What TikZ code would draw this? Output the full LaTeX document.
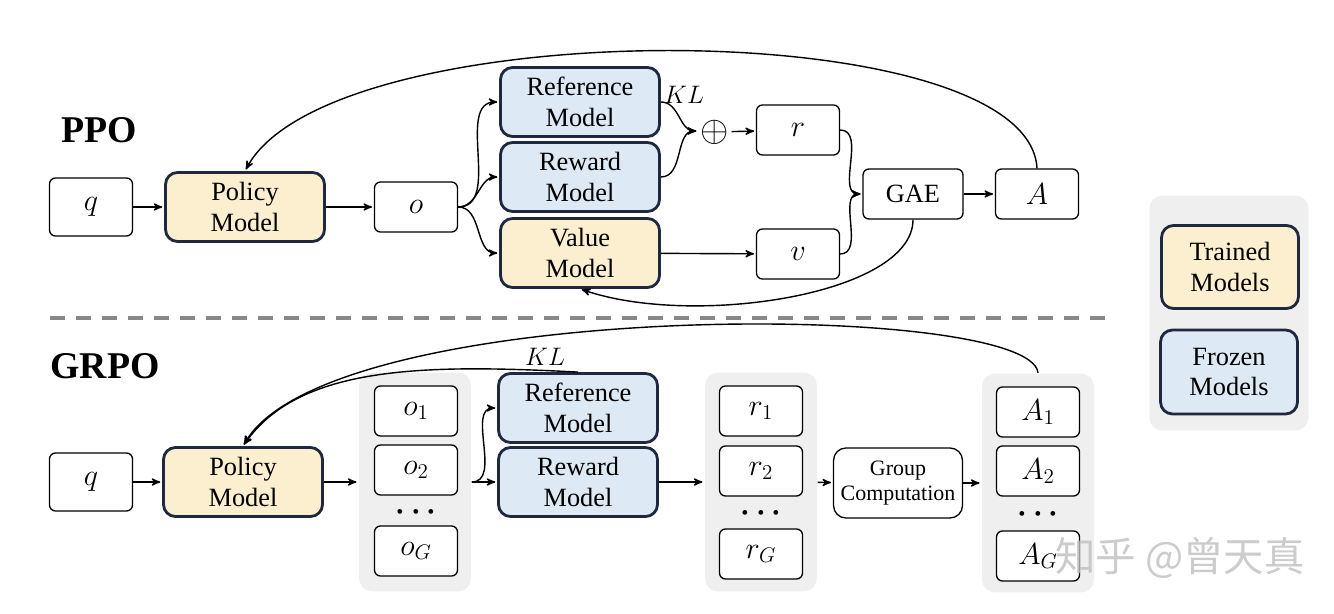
\documentclass[tikz,border=0pt]{standalone}
\usepackage{fontspec}
\setmainfont{Liberation Serif}
\newfontfamily\cjk{Noto Sans CJK SC}
\usetikzlibrary{arrows}

\definecolor{trained}{RGB}{252,239,207}
\definecolor{frozen}{RGB}{221,233,245}
\definecolor{navy}{RGB}{30,40,62}
\definecolor{groupgray}{RGB}{239,239,239}

\begin{document}
\begin{tikzpicture}[x=0.02cm, y=0.02cm, ->, >=stealth', shorten >=1pt, thick,
    model/.style={draw=navy, line width=1.6pt, rounded corners=0.24cm, minimum width=3.18cm,
        minimum height=1.38cm, inner sep=0pt, align=center, font=\fontsize{15}{17.6}\selectfont},
    var/.style={draw, line width=0.75pt, fill=white, rounded corners=0.12cm, minimum width=1.66cm,
        minimum height=1cm, inner sep=0pt, font=\fontsize{17.5}{19}\selectfont},
    group/.style={fill=groupgray, rounded corners=0.26cm, minimum width=2.24cm, minimum height=4.38cm},
    title/.style={font=\fontsize{21.5}{24}\selectfont\bfseries},
    kl/.style={font=\fontsize{15}{17}\selectfont},
    dots/.style={font=\fontsize{19}{20}\selectfont\boldmath, inner sep=0pt}]

    \useasboundingbox (0,0) rectangle (1334,-614);

    % PPO
    \node[title] (ppo) at (99,-130) {PPO};
    \node[var, minimum height=1.16cm] (q)  at (91,-207)  {$q$};
    \node[model, fill=trained] (P)         at (245,-207) {Policy\\Model};
    \node[var] (o)                         at (416,-207) {$o$};
    \node[model, fill=frozen] (ref)        at (580,-102) {Reference\\Model};
    \node[model, fill=frozen] (rew)        at (580,-177) {Reward\\Model};
    \node[model, fill=trained] (val)       at (580,-253) {Value\\Model};
    \coordinate (sum) at (698,-131);
    \node[kl] (klp) at (684,-95) {$KL$};
    \node[font=\fontsize{21}{22}\selectfont, inner sep=1pt] (plus) at (715,-132) {$\oplus$};
    \node[var] (r)                         at (798,-130) {$r$};
    \node[var] (v)                         at (798,-254) {$v$};
    \node[var, minimum width=2cm, font=\fontsize{15}{17}\selectfont] (gae) at (913,-194) {GAE};
    \node[var] (A)                         at (1037,-194) {$A$};

    \path
    (q) edge (P)
    (P) edge (o)
    (o.east) edge[out=0, in=180] (ref.west)
    (o.east) edge[out=0, in=180] (rew.west)
    (o.east) edge[out=0, in=180] (val.west)
    (ref.east) edge[out=0, in=180] (sum)
    (rew.east) edge[out=0, in=180] (sum)
    (plus) edge (r)
    (val) edge (v)
    (r.east) edge[out=0, in=180] (gae.west)
    (v.east) edge[out=0, in=180] (gae.west)
    (gae) edge (A)
    (A.north) edge[out=93, in=62, out distance=3.14cm, in distance=3.62cm] (P.north)
    (gae.south) edge[out=-90, in=-19, out distance=1.5cm, in distance=2.4cm] (val.south);

    % separator
    \draw[-, line width=2.3pt, color={rgb,255:red,136;green,136;blue,136}, dash pattern=on 0.3cm off 0.22cm]
        (50,-318) -- (1113,-318);

    % legend
    \node[group, minimum width=3.18cm, minimum height=4.7cm] (leg) at (1229,-313) {};
    \node[model, fill=trained, minimum width=2.74cm, minimum height=1.66cm] (tr) at (1230,-267) {Trained\\Models};
    \node[model, fill=frozen, minimum width=2.74cm, minimum height=1.68cm] (fr) at (1229,-372) {Frozen\\Models};

    % GRPO
    \node[title] (grpo) at (105,-366) {GRPO};
    \node[var, minimum height=1.16cm] (q2) at (91,-482)  {$q$};
    \node[model, fill=trained] (P2)        at (243,-482) {Policy\\Model};
    \node[group] (og) at (415,-482) {};
    \node[var] (o1) at (416,-411) {$o_1$};
    \node[var] (o2) at (416,-470) {$o_2$};
    \node[dots] (od) at (416,-512) {$\cdots$};
    \node[var] (oG) at (416,-551) {$o_G$};
    \node[model, fill=frozen] (ref2)       at (578,-408) {Reference\\Model};
    \node[model, fill=frozen] (rew2)       at (578,-482) {Reward\\Model};
    \node[kl] (klg) at (545,-357) {$KL$};
    \node[group] (rg) at (761,-482) {};
    \node[var] (r1) at (761,-411) {$r_1$};
    \node[var] (r2) at (761,-471) {$r_2$};
    \node[dots] (rd) at (761,-513) {$\cdots$};
    \node[var] (rG) at (761,-554) {$r_G$};
    \node[var, minimum width=2.58cm, minimum height=1.4cm, rounded corners=0.25cm, align=center,
        font=\fontsize{12.5}{14.5}\selectfont] (gc) at (898,-483) {Group\\Computation};
    \node[group] (Ag) at (1038,-483) {};
    \node[var] (A1) at (1038,-412) {$A_1$};
    \node[var] (A2) at (1038,-471) {$A_2$};
    \node[dots] (Ad) at (1038,-514) {$\cdots$};
    \node[var] (AG) at (1038,-556) {$A_G$};

    \path
    (q2) edge (P2)
    (P2) edge (og)
    (og.east) edge (rew2)
    (og.east) edge[out=0, in=180] (ref2.west)
    (rew2) edge (rg)
    (rg) edge (gc)
    (gc) edge (Ag)
    (ref2.north) edge[out=177, in=55, out distance=3.12cm, in distance=1.96cm] (P2.north)
    (Ag.north) edge[out=96, in=60, out distance=1.46cm, in distance=3.44cm] (P2.north);

    % watermark
    \node[font=\cjk\fontsize{23}{26}\selectfont, text=black!25, opacity=0.8] (wm) at (1180,-558) {知乎 @曾天真};
\end{tikzpicture}
\end{document}
